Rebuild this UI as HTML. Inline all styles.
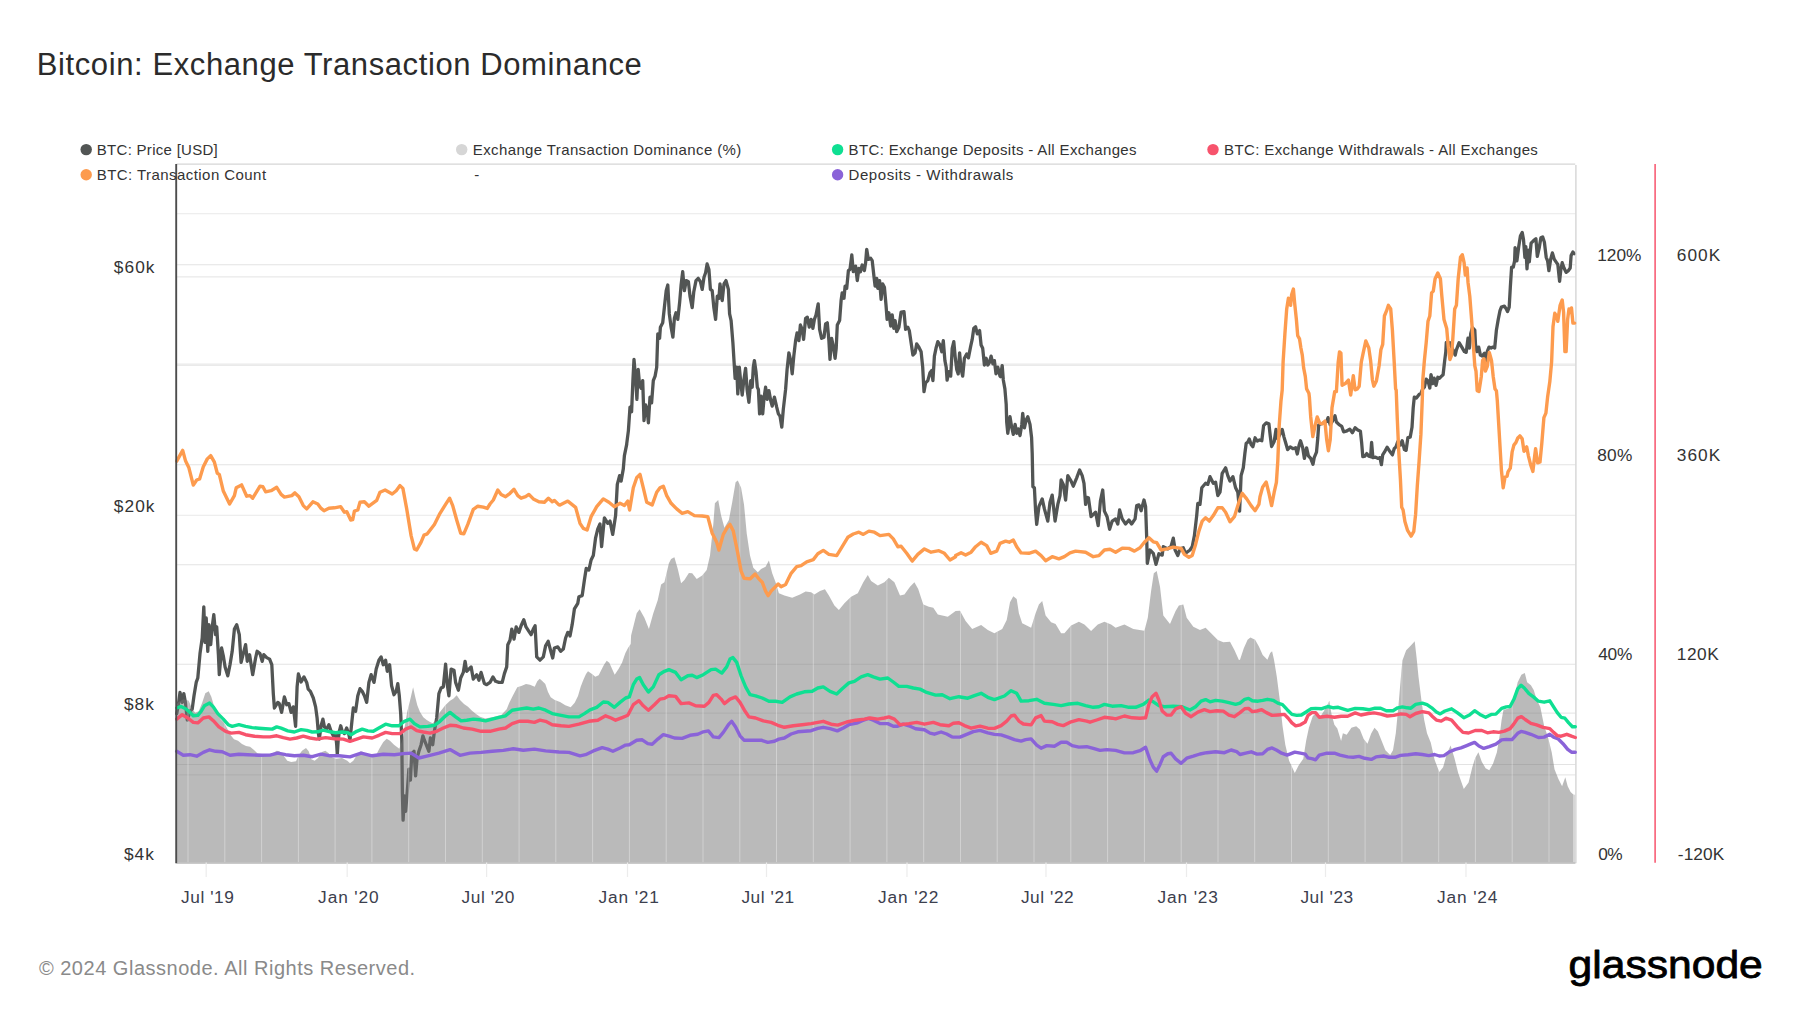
<!DOCTYPE html>
<html><head><meta charset="utf-8"><title>Bitcoin: Exchange Transaction Dominance</title>
<style>
html,body{margin:0;padding:0;background:#fff;}
body{width:1800px;height:1013px;overflow:hidden;}
svg{display:block;}
text{font-family:"Liberation Sans",sans-serif;}
</style></head><body>
<svg width="1800" height="1013" viewBox="0 0 1800 1013">
<rect width="1800" height="1013" fill="#ffffff"/>

<line x1="177" x2="1575.5" y1="264.8" y2="264.8" stroke="#e3e3e3" stroke-width="1.1"/>
<line x1="177" x2="1575.5" y1="365.1" y2="365.1" stroke="#e3e3e3" stroke-width="1.1"/>
<line x1="177" x2="1575.5" y1="464.7" y2="464.7" stroke="#e3e3e3" stroke-width="1.1"/>
<line x1="177" x2="1575.5" y1="564.8" y2="564.8" stroke="#e3e3e3" stroke-width="1.1"/>
<line x1="177" x2="1575.5" y1="664.2" y2="664.2" stroke="#e3e3e3" stroke-width="1.1"/>
<line x1="177" x2="1575.5" y1="764.5" y2="764.5" stroke="#e3e3e3" stroke-width="1.1"/>
<line x1="177" x2="1575.5" y1="213.8" y2="213.8" stroke="#e9e9e9" stroke-width="1.1"/>
<line x1="177" x2="1575.5" y1="276.9" y2="276.9" stroke="#e9e9e9" stroke-width="1.1"/>
<line x1="177" x2="1575.5" y1="364.0" y2="364.0" stroke="#e9e9e9" stroke-width="1.1"/>
<line x1="177" x2="1575.5" y1="515.3" y2="515.3" stroke="#e9e9e9" stroke-width="1.1"/>
<line x1="177" x2="1575.5" y1="713.1" y2="713.1" stroke="#e9e9e9" stroke-width="1.1"/>
<line x1="177" x2="1575.5" y1="774.9" y2="774.9" stroke="#e9e9e9" stroke-width="1.1"/>
<path d="M176.7,713.6 L178.4,704.7 L180.0,692.4 L182.2,702.4 L183.8,693.6 L185.6,703.6 L187.3,720.2 L190.0,711.3 L192.2,709.1 L194.0,695.8 L196.2,682.4 L197.8,678.0 L200.0,653.6 L202.2,638.0 L203.8,606.9 L205.1,642.4 L206.2,618.0 L207.8,651.3 L208.9,624.7 L210.7,644.7 L212.2,626.9 L213.8,614.7 L215.6,634.7 L216.7,626.9 L218.4,654.7 L219.3,674.7 L221.6,648.0 L223.3,655.8 L225.1,666.9 L227.8,675.8 L230.0,664.7 L232.2,651.3 L234.4,629.1 L236.7,624.7 L239.3,634.7 L241.1,662.4 L243.3,653.6 L245.6,644.7 L247.3,661.3 L249.6,654.7 L252.7,674.7 L255.6,658.0 L257.1,651.3 L260.0,653.6 L262.2,661.3 L263.8,654.7 L266.7,657.6 L269.6,659.1 L271.8,664.7 L273.3,693.6 L274.4,708.0 L277.8,702.4 L279.3,703.6 L281.6,712.4 L284.4,696.9 L286.7,704.7 L288.9,703.6 L291.1,712.4 L293.3,706.9 L294.4,715.8 L295.6,726.4 L297.1,686.9 L298.4,674.0 L301.1,682.0 L304.0,676.9 L306.7,682.4 L308.2,689.1 L310.4,691.3 L313.3,698.0 L315.6,706.9 L317.1,718.0 L318.4,733.6 L319.3,739.1 L321.1,725.8 L322.9,719.1 L324.4,726.9 L326.7,729.1 L328.9,724.7 L331.1,731.3 L333.3,735.8 L335.6,733.6 L336.7,744.7 L337.3,754.7 L338.2,740.2 L339.3,731.3 L340.7,725.8 L342.2,731.3 L344.4,733.6 L346.7,728.0 L348.9,734.7 L350.0,740.2 L351.8,722.4 L353.3,708.0 L355.6,711.3 L357.8,695.8 L360.0,688.7 L362.2,691.3 L364.4,695.8 L366.7,702.4 L368.9,682.4 L371.1,674.7 L374.0,682.4 L376.2,669.1 L378.9,660.2 L381.1,656.9 L383.3,664.7 L385.6,660.2 L387.3,671.3 L389.6,664.7 L391.6,685.8 L394.0,694.7 L396.2,691.3 L397.8,683.6 L399.3,695.8 L400.7,713.6 L401.8,740.2 L402.4,793.6 L403.1,820.2 L404.4,795.8 L405.6,811.3 L407.3,791.3 L408.9,769.1 L410.4,780.2 L411.8,753.6 L414.0,751.3 L415.6,775.8 L417.1,758.0 L418.9,751.3 L421.1,744.7 L422.9,735.8 L424.4,740.2 L426.7,745.8 L428.9,751.3 L430.4,738.0 L432.7,744.7 L434.4,731.3 L436.7,718.0 L438.9,693.6 L441.1,688.0 L443.3,686.9 L445.6,664.2 L447.3,684.7 L448.9,695.8 L451.1,669.1 L454.0,670.2 L455.6,682.4 L458.4,690.2 L460.7,678.0 L463.3,672.4 L465.1,661.3 L466.7,671.3 L468.9,669.1 L471.1,666.9 L473.3,679.1 L476.7,674.7 L478.9,680.2 L481.1,672.4 L484.4,683.6 L486.7,684.7 L490.0,682.4 L492.9,676.9 L495.6,681.3 L498.9,682.4 L502.2,682.4 L504.4,673.6 L506.7,666.9 L507.8,644.7 L510.0,640.2 L511.8,629.1 L514.0,639.1 L516.2,626.9 L518.9,632.4 L521.1,625.8 L523.8,619.8 L526.0,626.9 L528.9,631.3 L531.1,634.7 L533.3,629.1 L535.1,625.8 L536.7,656.9 L540.0,660.2 L543.3,656.9 L545.6,645.8 L548.2,641.3 L551.1,652.4 L552.7,658.0 L554.4,648.0 L557.8,646.9 L560.7,651.3 L563.3,649.1 L565.6,638.0 L567.8,632.4 L570.0,633.6 L570.0,636.0 L572.2,624.4 L574.4,608.9 L577.8,603.3 L578.9,596.7 L582.2,595.6 L584.4,580.0 L586.2,568.4 L588.9,570.0 L591.1,560.0 L593.3,555.6 L595.6,537.8 L597.8,528.9 L600.0,524.0 L601.6,546.7 L604.4,517.8 L607.8,523.3 L610.0,521.1 L612.7,534.4 L615.6,515.6 L617.3,484.4 L619.6,475.6 L621.1,481.1 L623.3,468.9 L624.4,455.6 L626.7,444.4 L626.7,443.9 L628.4,430.6 L630.0,407.2 L631.6,411.7 L632.9,380.6 L634.0,359.4 L635.6,378.3 L636.9,399.4 L638.2,369.4 L639.6,385.0 L641.1,388.3 L642.7,380.6 L644.0,420.6 L645.6,405.0 L647.1,409.4 L648.4,422.8 L650.0,397.2 L651.6,402.8 L653.3,380.6 L655.1,376.1 L656.7,367.2 L657.8,333.9 L659.6,338.3 L660.4,327.2 L662.7,322.8 L664.4,307.2 L666.2,290.6 L667.8,285.0 L669.3,313.9 L671.1,327.2 L672.9,337.2 L674.4,318.3 L676.0,312.8 L677.8,319.4 L679.6,302.8 L681.1,285.0 L682.7,271.7 L684.4,290.6 L686.2,280.6 L688.4,281.7 L690.0,296.1 L692.2,307.7 L693.8,291.7 L696.0,280.6 L698.2,278.3 L700.4,281.7 L702.2,289.4 L704.0,277.2 L705.6,272.8 L707.1,263.9 L708.9,269.4 L710.4,289.4 L712.2,290.6 L713.8,307.2 L715.6,319.4 L717.3,296.1 L718.9,298.3 L720.0,283.9 L722.2,300.6 L724.0,283.9 L726.0,280.6 L728.4,289.4 L729.6,313.9 L731.1,320.6 L732.9,342.8 L734.0,360.6 L735.1,378.3 L736.7,367.2 L737.8,393.9 L739.3,367.2 L740.7,381.7 L742.2,395.0 L743.8,380.6 L745.6,368.3 L747.1,389.4 L748.9,402.3 L750.7,380.6 L752.2,387.2 L753.3,367.2 L754.4,360.6 L756.0,371.7 L757.3,387.2 L758.4,389.4 L759.6,413.9 L761.1,396.1 L762.7,413.9 L764.0,398.3 L765.6,387.2 L767.1,399.4 L768.9,390.6 L770.7,400.6 L772.2,406.1 L774.4,397.2 L776.7,407.2 L778.4,413.9 L780.0,416.1 L781.8,427.2 L783.3,409.4 L785.6,389.4 L787.1,369.4 L788.9,352.8 L790.7,360.6 L792.2,373.9 L793.8,356.1 L795.6,340.6 L797.1,332.8 L798.9,340.6 L800.4,325.0 L802.2,329.4 L803.6,339.4 L805.6,318.3 L807.3,317.2 L809.3,327.2 L811.1,319.4 L812.9,328.3 L814.4,319.4 L816.0,315.0 L818.2,303.9 L819.6,329.4 L821.6,338.3 L824.0,337.2 L825.6,323.9 L827.3,322.8 L828.9,340.6 L830.0,359.4 L831.6,338.3 L833.3,346.1 L835.1,358.3 L836.2,348.3 L837.3,325.0 L839.6,320.6 L841.1,300.6 L842.2,292.8 L844.0,298.3 L845.1,286.1 L846.7,288.3 L848.4,270.6 L850.0,269.4 L851.8,255.0 L853.3,271.7 L855.6,266.1 L857.3,280.6 L858.9,268.3 L860.4,271.7 L862.2,265.0 L864.4,270.6 L865.6,262.8 L866.7,249.4 L868.4,259.4 L870.7,258.3 L872.2,260.6 L873.8,275.0 L875.1,286.1 L876.7,278.3 L877.8,288.3 L879.6,280.6 L881.1,299.4 L882.7,283.9 L884.4,287.2 L886.0,305.0 L887.1,319.4 L888.9,312.8 L890.7,326.1 L892.2,315.0 L893.8,328.3 L895.1,320.6 L896.7,331.7 L898.9,327.2 L901.1,312.1 L904.0,311.7 L905.6,329.4 L907.8,327.2 L909.3,330.6 L911.1,342.8 L912.9,355.0 L915.1,352.8 L916.7,343.9 L918.9,347.2 L921.1,351.7 L922.7,367.2 L924.0,391.7 L925.6,382.8 L927.8,380.6 L930.0,372.8 L931.6,370.6 L932.9,380.6 L934.4,356.1 L936.0,348.3 L937.8,341.7 L940.0,345.0 L941.8,351.7 L943.3,340.6 L944.9,360.6 L946.2,367.2 L947.1,380.1 L948.9,371.7 L950.7,376.1 L952.2,348.3 L953.8,341.7 L955.1,356.1 L956.7,369.4 L958.2,373.9 L959.6,352.8 L961.1,369.4 L962.7,376.1 L964.4,358.3 L966.7,353.9 L968.4,357.9 L970.7,346.1 L972.2,339.4 L973.8,328.3 L975.6,326.8 L977.3,333.9 L979.6,330.6 L981.1,345.0 L982.7,348.3 L984.4,365.0 L986.2,358.3 L987.8,365.0 L989.3,362.8 L991.1,356.1 L992.9,363.9 L994.4,360.6 L996.0,373.9 L997.8,367.2 L1000.0,376.1 L1000.4,376.7 L1002.2,365.6 L1003.3,380.0 L1004.9,388.9 L1006.2,404.4 L1006.7,422.2 L1007.8,433.3 L1010.0,416.7 L1011.6,426.7 L1013.3,434.4 L1015.1,424.4 L1016.7,433.3 L1018.2,428.9 L1020.0,435.6 L1021.8,424.4 L1022.7,413.3 L1024.4,427.8 L1026.2,420.0 L1027.8,416.7 L1030.0,424.4 L1031.6,437.8 L1032.2,453.3 L1032.9,486.7 L1034.4,487.8 L1035.6,511.1 L1036.7,524.4 L1038.9,506.7 L1042.2,498.9 L1044.4,508.9 L1047.8,521.1 L1050.0,502.2 L1052.2,495.1 L1055.1,521.1 L1057.8,504.4 L1060.0,495.6 L1061.1,480.0 L1063.3,484.4 L1065.6,500.0 L1067.8,475.6 L1071.1,481.1 L1073.3,486.2 L1076.7,477.8 L1079.6,470.0 L1082.2,475.6 L1084.0,483.3 L1085.6,504.4 L1086.7,497.3 L1088.4,497.8 L1091.1,516.7 L1095.6,512.2 L1098.2,525.6 L1100.4,501.1 L1102.7,490.0 L1104.4,511.1 L1107.1,516.7 L1109.6,529.3 L1112.2,521.1 L1115.6,518.9 L1117.8,524.0 L1119.6,510.0 L1122.2,518.9 L1125.6,524.0 L1128.9,520.0 L1131.6,524.0 L1135.1,518.9 L1136.7,505.6 L1138.9,504.9 L1141.1,510.7 L1144.0,500.0 L1145.6,506.7 L1146.7,537.8 L1147.3,563.3 L1150.0,550.0 L1153.3,553.3 L1156.0,564.4 L1158.9,553.8 L1162.2,555.1 L1163.3,546.7 L1167.8,548.9 L1171.1,546.2 L1173.3,538.2 L1175.1,550.0 L1177.8,555.6 L1180.0,548.9 L1183.3,547.8 L1185.6,553.3 L1190.0,550.0 L1192.2,546.7 L1194.4,535.6 L1196.7,515.6 L1197.8,503.3 L1200.0,504.4 L1201.8,487.8 L1205.6,483.3 L1207.8,484.4 L1210.0,476.7 L1213.3,483.3 L1215.6,482.2 L1217.8,495.6 L1220.0,492.2 L1222.2,473.3 L1225.6,467.8 L1227.8,475.6 L1230.0,481.1 L1232.9,476.7 L1235.6,487.8 L1237.8,492.2 L1239.6,511.1 L1241.1,475.6 L1243.3,467.8 L1244.9,453.3 L1246.2,443.3 L1247.8,442.2 L1249.3,438.9 L1251.1,444.4 L1252.9,446.7 L1255.1,437.8 L1257.3,441.1 L1259.6,440.0 L1261.8,440.7 L1263.6,425.6 L1266.2,422.9 L1268.9,423.8 L1270.3,436.2 L1271.6,446.5 L1274.2,441.6 L1276.0,429.5 L1277.8,438.9 L1279.9,434.4 L1282.2,429.5 L1284.0,437.1 L1285.8,443.3 L1287.6,449.6 L1290.2,446.9 L1292.9,448.7 L1295.6,447.8 L1297.3,454.0 L1299.1,445.1 L1300.5,440.7 L1302.7,447.8 L1304.4,458.4 L1306.6,447.8 L1308.4,455.8 L1310.7,458.4 L1313.0,464.3 L1314.2,457.6 L1316.5,452.2 L1317.8,438.0 L1318.7,424.7 L1321.3,423.8 L1324.0,422.9 L1326.7,421.6 L1328.1,417.6 L1330.2,424.7 L1332.5,421.1 L1335.0,415.8 L1336.4,422.0 L1339.1,424.7 L1341.8,426.4 L1343.6,431.8 L1346.2,431.2 L1349.8,429.1 L1352.4,432.7 L1355.1,427.7 L1357.8,430.0 L1360.4,431.2 L1361.7,443.3 L1362.8,456.7 L1364.9,456.1 L1366.7,453.6 L1368.8,456.1 L1370.6,456.7 L1371.6,442.4 L1372.9,457.6 L1375.6,457.2 L1378.2,458.4 L1380.0,457.6 L1381.4,464.7 L1382.7,454.9 L1384.4,452.2 L1387.1,447.2 L1389.8,451.3 L1392.4,454.9 L1394.2,448.7 L1396.0,446.9 L1397.8,441.6 L1400.4,445.1 L1402.2,440.7 L1404.4,449.6 L1406.1,450.4 L1407.9,437.6 L1410.2,437.1 L1412.0,427.3 L1413.2,407.8 L1414.3,397.1 L1416.4,398.0 L1419.1,394.4 L1420.9,393.3 L1422.7,388.9 L1424.4,387.1 L1426.2,379.1 L1428.0,380.9 L1429.8,388.0 L1431.0,374.7 L1432.8,383.6 L1434.2,378.2 L1436.0,385.3 L1437.8,377.3 L1439.6,378.2 L1441.3,376.4 L1443.1,374.7 L1444.5,362.2 L1445.8,351.6 L1446.3,342.3 L1448.1,344.4 L1449.9,342.7 L1452.0,348.0 L1453.8,351.6 L1455.2,355.1 L1456.4,349.8 L1459.1,342.7 L1461.8,347.1 L1464.4,351.6 L1466.2,352.4 L1468.0,338.2 L1469.4,348.0 L1470.7,333.8 L1472.4,327.6 L1474.8,330.2 L1475.5,344.4 L1476.9,351.6 L1478.7,347.1 L1480.4,355.1 L1482.2,356.0 L1484.4,353.3 L1485.8,361.3 L1487.2,351.6 L1489.0,347.1 L1491.1,348.0 L1492.9,347.1 L1494.7,348.0 L1496.4,330.2 L1498.2,319.6 L1500.0,310.7 L1501.4,307.1 L1504.4,306.2 L1506.2,308.9 L1507.5,311.6 L1509.2,307.1 L1510.3,287.6 L1511.6,267.1 L1513.3,267.1 L1514.6,260.9 L1515.1,247.6 L1516.9,260.9 L1518.7,246.7 L1520.4,236.0 L1522.2,232.4 L1523.5,239.6 L1524.9,257.3 L1525.8,246.7 L1527.0,268.9 L1528.1,250.2 L1529.3,261.8 L1531.1,243.1 L1532.9,241.3 L1534.7,239.6 L1535.9,238.7 L1537.3,256.4 L1539.1,248.4 L1540.9,237.8 L1542.7,236.9 L1544.4,242.2 L1546.2,257.3 L1547.6,260.9 L1548.9,270.7 L1550.7,259.1 L1552.4,252.9 L1554.2,259.1 L1556.0,261.8 L1557.8,264.4 L1559.6,281.3 L1560.8,269.8 L1562.2,262.7 L1564.0,268.0 L1566.1,272.4 L1568.4,270.7 L1570.2,268.0 L1571.1,255.6 L1572.9,252.0 L1574.3,253.8" fill="none" stroke="#525554" stroke-width="3.3" stroke-linejoin="round" stroke-linecap="round"/>
<defs><clipPath id="ac"><path d="M176.4,862.5 L176.4,703.3 L183.3,699.3 L188.7,700.7 L192.0,708.7 L195.3,712.7 L198.7,711.3 L202.0,703.3 L205.3,693.3 L208.7,691.3 L211.3,696.7 L214.0,706.0 L217.3,714.0 L220.7,719.3 L224.0,722.7 L227.3,728.7 L230.7,735.3 L234.0,739.3 L238.0,740.7 L242.0,744.0 L246.0,746.0 L250.0,746.7 L254.0,750.0 L257.3,753.3 L262.0,754.0 L271.3,754.0 L276.7,750.7 L279.3,751.3 L283.3,755.3 L287.3,760.7 L291.3,762.0 L296.0,761.3 L298.7,755.3 L302.0,750.7 L306.0,748.0 L308.7,751.3 L311.3,759.3 L314.7,760.7 L318.0,758.0 L322.0,752.0 L325.3,750.7 L328.7,753.3 L332.0,757.3 L336.0,758.7 L342.0,758.0 L347.3,760.7 L350.0,763.3 L353.3,760.7 L356.7,755.3 L360.7,751.3 L363.3,752.0 L367.3,755.3 L372.7,756.7 L376.0,755.3 L379.3,748.7 L383.3,742.0 L386.7,738.7 L390.0,740.7 L394.0,744.7 L399.3,748.7 L402.7,739.3 L402.7,739.3 L405.3,723.3 L407.3,711.3 L410.0,700.7 L413.1,687.3 L415.3,697.3 L417.3,705.3 L420.0,712.0 L423.3,717.3 L426.7,720.0 L430.0,722.0 L432.7,723.3 L436.0,720.0 L440.0,712.0 L445.3,705.3 L450.0,700.7 L453.3,698.7 L456.7,695.3 L460.0,700.0 L464.0,704.0 L468.0,706.7 L472.0,710.7 L476.0,714.0 L480.0,716.7 L485.3,718.4 L493.3,717.1 L501.3,714.9 L506.7,709.3 L509.3,702.7 L513.3,694.7 L517.3,687.3 L521.3,686.0 L526.0,684.0 L530.0,684.7 L534.7,686.7 L537.3,681.3 L539.7,678.7 L542.0,680.7 L545.3,684.0 L548.0,692.0 L550.7,697.3 L554.7,700.0 L560.0,702.0 L565.3,705.3 L570.7,707.3 L574.7,702.7 L578.0,696.0 L580.7,686.7 L583.3,680.0 L586.0,674.0 L588.0,671.3 L592.0,674.0 L595.3,676.7 L598.7,675.3 L601.3,670.0 L604.0,664.7 L606.7,660.7 L609.3,662.7 L612.0,668.7 L614.7,674.7 L618.7,668.7 L622.0,662.7 L625.3,653.3 L628.0,648.0 L630.7,644.0 L631.1,635.6 L636.7,613.3 L639.6,609.3 L644.4,617.8 L648.9,628.9 L653.3,613.3 L657.8,600.0 L661.1,584.4 L664.4,582.2 L668.9,563.3 L671.1,558.9 L674.4,557.3 L677.8,568.9 L681.1,583.3 L684.4,580.0 L688.9,572.9 L692.2,573.3 L696.7,578.9 L702.2,575.6 L706.7,570.0 L710.0,555.6 L713.3,524.4 L714.9,503.3 L718.2,500.0 L721.1,515.6 L724.4,527.8 L728.9,520.0 L732.2,502.2 L735.6,482.2 L737.8,480.4 L741.1,487.8 L744.0,504.4 L746.7,533.3 L750.0,555.6 L753.3,567.8 L757.8,572.2 L761.1,568.9 L765.6,566.7 L768.9,560.4 L772.2,573.3 L775.6,582.2 L778.9,593.3 L784.4,595.6 L792.2,597.8 L800.0,594.4 L805.6,591.6 L811.1,592.2 L814.4,594.4 L820.0,591.1 L824.9,589.3 L828.9,595.6 L834.4,605.6 L838.9,610.0 L844.4,603.3 L851.1,596.7 L857.8,593.3 L863.3,582.2 L867.8,575.1 L871.1,581.1 L877.8,585.6 L884.4,582.2 L888.9,577.8 L894.4,582.2 L900.0,595.6 L904.4,594.4 L910.0,586.7 L914.4,582.2 L918.2,588.9 L923.3,604.4 L928.9,606.7 L933.3,607.8 L937.8,614.4 L947.8,616.7 L955.6,611.1 L960.0,610.7 L965.6,621.1 L972.2,628.9 L981.1,624.9 L987.8,630.0 L994.4,633.3 L1002.2,628.9 L1006.7,620.0 L1010.0,602.2 L1013.3,596.2 L1016.7,598.9 L1018.9,613.3 L1022.2,623.3 L1031.1,627.8 L1035.6,613.3 L1038.9,604.4 L1042.2,601.1 L1045.6,615.6 L1051.1,622.2 L1055.6,624.0 L1061.1,633.3 L1064.4,633.3 L1071.1,625.6 L1078.9,621.8 L1084.4,624.4 L1091.1,631.1 L1097.8,624.4 L1104.4,621.8 L1111.1,624.4 L1115.6,627.8 L1124.4,624.4 L1133.3,628.9 L1144.4,630.7 L1147.8,617.8 L1151.1,591.1 L1153.8,573.3 L1156.7,571.1 L1160.0,586.7 L1163.3,615.6 L1170.0,624.0 L1175.6,611.1 L1178.9,605.6 L1183.3,604.4 L1186.7,617.8 L1193.3,626.7 L1200.0,630.0 L1205.6,627.8 L1211.1,633.3 L1217.8,640.0 L1223.3,642.2 L1230.0,641.8 L1234.4,650.0 L1238.9,660.0 L1240.0,659.7 L1243.8,648.3 L1247.6,639.8 L1250.4,637.6 L1255.1,639.8 L1258.9,646.4 L1262.7,654.9 L1267.4,659.7 L1270.2,653.1 L1272.1,651.2 L1274.0,659.7 L1276.8,676.7 L1279.7,699.3 L1282.5,725.8 L1285.3,744.7 L1289.1,760.7 L1294.8,773.0 L1298.6,765.4 L1303.3,758.8 L1306.1,740.9 L1308.9,727.7 L1312.7,716.3 L1315.6,713.5 L1319.3,718.2 L1324.1,710.7 L1326.9,705.9 L1329.3,700.8 L1331.6,714.4 L1334.4,724.8 L1337.3,728.6 L1341.1,740.9 L1342.9,733.3 L1346.7,734.8 L1351.4,727.7 L1356.2,726.2 L1359.9,729.6 L1363.7,739.0 L1367.5,743.7 L1371.3,733.3 L1374.5,727.7 L1377.9,731.4 L1381.7,740.9 L1385.4,750.3 L1390.2,755.1 L1393.0,750.3 L1395.8,733.3 L1398.7,703.1 L1400.6,680.4 L1402.4,660.6 L1406.2,650.2 L1410.9,645.5 L1414.7,641.2 L1416.6,657.8 L1418.5,676.7 L1421.3,699.3 L1424.2,720.1 L1427.0,733.3 L1430.8,742.8 L1434.6,759.8 L1439.3,772.1 L1443.1,767.3 L1446.8,754.1 L1450.6,745.6 L1454.4,757.9 L1458.2,773.0 L1463.8,789.1 L1468.6,782.4 L1472.3,767.3 L1475.2,757.9 L1478.4,752.2 L1481.8,761.7 L1485.6,768.3 L1489.3,770.2 L1493.1,763.6 L1496.9,752.2 L1499.7,735.2 L1501.6,720.1 L1503.5,709.7 L1508.2,708.8 L1512.0,705.9 L1514.8,694.6 L1517.7,682.3 L1521.4,674.8 L1524.8,672.9 L1527.1,682.3 L1530.9,685.2 L1533.7,689.9 L1536.6,699.3 L1540.3,706.9 L1544.1,725.8 L1547.9,737.1 L1551.7,752.2 L1554.5,769.2 L1558.3,778.7 L1562.1,786.2 L1565.3,777.2 L1567.7,786.2 L1570.6,791.9 L1573.6,794.7 L1573.6,862.5 Z"/></clipPath></defs>
<path d="M176.4,862.5 L176.4,703.3 L183.3,699.3 L188.7,700.7 L192.0,708.7 L195.3,712.7 L198.7,711.3 L202.0,703.3 L205.3,693.3 L208.7,691.3 L211.3,696.7 L214.0,706.0 L217.3,714.0 L220.7,719.3 L224.0,722.7 L227.3,728.7 L230.7,735.3 L234.0,739.3 L238.0,740.7 L242.0,744.0 L246.0,746.0 L250.0,746.7 L254.0,750.0 L257.3,753.3 L262.0,754.0 L271.3,754.0 L276.7,750.7 L279.3,751.3 L283.3,755.3 L287.3,760.7 L291.3,762.0 L296.0,761.3 L298.7,755.3 L302.0,750.7 L306.0,748.0 L308.7,751.3 L311.3,759.3 L314.7,760.7 L318.0,758.0 L322.0,752.0 L325.3,750.7 L328.7,753.3 L332.0,757.3 L336.0,758.7 L342.0,758.0 L347.3,760.7 L350.0,763.3 L353.3,760.7 L356.7,755.3 L360.7,751.3 L363.3,752.0 L367.3,755.3 L372.7,756.7 L376.0,755.3 L379.3,748.7 L383.3,742.0 L386.7,738.7 L390.0,740.7 L394.0,744.7 L399.3,748.7 L402.7,739.3 L402.7,739.3 L405.3,723.3 L407.3,711.3 L410.0,700.7 L413.1,687.3 L415.3,697.3 L417.3,705.3 L420.0,712.0 L423.3,717.3 L426.7,720.0 L430.0,722.0 L432.7,723.3 L436.0,720.0 L440.0,712.0 L445.3,705.3 L450.0,700.7 L453.3,698.7 L456.7,695.3 L460.0,700.0 L464.0,704.0 L468.0,706.7 L472.0,710.7 L476.0,714.0 L480.0,716.7 L485.3,718.4 L493.3,717.1 L501.3,714.9 L506.7,709.3 L509.3,702.7 L513.3,694.7 L517.3,687.3 L521.3,686.0 L526.0,684.0 L530.0,684.7 L534.7,686.7 L537.3,681.3 L539.7,678.7 L542.0,680.7 L545.3,684.0 L548.0,692.0 L550.7,697.3 L554.7,700.0 L560.0,702.0 L565.3,705.3 L570.7,707.3 L574.7,702.7 L578.0,696.0 L580.7,686.7 L583.3,680.0 L586.0,674.0 L588.0,671.3 L592.0,674.0 L595.3,676.7 L598.7,675.3 L601.3,670.0 L604.0,664.7 L606.7,660.7 L609.3,662.7 L612.0,668.7 L614.7,674.7 L618.7,668.7 L622.0,662.7 L625.3,653.3 L628.0,648.0 L630.7,644.0 L631.1,635.6 L636.7,613.3 L639.6,609.3 L644.4,617.8 L648.9,628.9 L653.3,613.3 L657.8,600.0 L661.1,584.4 L664.4,582.2 L668.9,563.3 L671.1,558.9 L674.4,557.3 L677.8,568.9 L681.1,583.3 L684.4,580.0 L688.9,572.9 L692.2,573.3 L696.7,578.9 L702.2,575.6 L706.7,570.0 L710.0,555.6 L713.3,524.4 L714.9,503.3 L718.2,500.0 L721.1,515.6 L724.4,527.8 L728.9,520.0 L732.2,502.2 L735.6,482.2 L737.8,480.4 L741.1,487.8 L744.0,504.4 L746.7,533.3 L750.0,555.6 L753.3,567.8 L757.8,572.2 L761.1,568.9 L765.6,566.7 L768.9,560.4 L772.2,573.3 L775.6,582.2 L778.9,593.3 L784.4,595.6 L792.2,597.8 L800.0,594.4 L805.6,591.6 L811.1,592.2 L814.4,594.4 L820.0,591.1 L824.9,589.3 L828.9,595.6 L834.4,605.6 L838.9,610.0 L844.4,603.3 L851.1,596.7 L857.8,593.3 L863.3,582.2 L867.8,575.1 L871.1,581.1 L877.8,585.6 L884.4,582.2 L888.9,577.8 L894.4,582.2 L900.0,595.6 L904.4,594.4 L910.0,586.7 L914.4,582.2 L918.2,588.9 L923.3,604.4 L928.9,606.7 L933.3,607.8 L937.8,614.4 L947.8,616.7 L955.6,611.1 L960.0,610.7 L965.6,621.1 L972.2,628.9 L981.1,624.9 L987.8,630.0 L994.4,633.3 L1002.2,628.9 L1006.7,620.0 L1010.0,602.2 L1013.3,596.2 L1016.7,598.9 L1018.9,613.3 L1022.2,623.3 L1031.1,627.8 L1035.6,613.3 L1038.9,604.4 L1042.2,601.1 L1045.6,615.6 L1051.1,622.2 L1055.6,624.0 L1061.1,633.3 L1064.4,633.3 L1071.1,625.6 L1078.9,621.8 L1084.4,624.4 L1091.1,631.1 L1097.8,624.4 L1104.4,621.8 L1111.1,624.4 L1115.6,627.8 L1124.4,624.4 L1133.3,628.9 L1144.4,630.7 L1147.8,617.8 L1151.1,591.1 L1153.8,573.3 L1156.7,571.1 L1160.0,586.7 L1163.3,615.6 L1170.0,624.0 L1175.6,611.1 L1178.9,605.6 L1183.3,604.4 L1186.7,617.8 L1193.3,626.7 L1200.0,630.0 L1205.6,627.8 L1211.1,633.3 L1217.8,640.0 L1223.3,642.2 L1230.0,641.8 L1234.4,650.0 L1238.9,660.0 L1240.0,659.7 L1243.8,648.3 L1247.6,639.8 L1250.4,637.6 L1255.1,639.8 L1258.9,646.4 L1262.7,654.9 L1267.4,659.7 L1270.2,653.1 L1272.1,651.2 L1274.0,659.7 L1276.8,676.7 L1279.7,699.3 L1282.5,725.8 L1285.3,744.7 L1289.1,760.7 L1294.8,773.0 L1298.6,765.4 L1303.3,758.8 L1306.1,740.9 L1308.9,727.7 L1312.7,716.3 L1315.6,713.5 L1319.3,718.2 L1324.1,710.7 L1326.9,705.9 L1329.3,700.8 L1331.6,714.4 L1334.4,724.8 L1337.3,728.6 L1341.1,740.9 L1342.9,733.3 L1346.7,734.8 L1351.4,727.7 L1356.2,726.2 L1359.9,729.6 L1363.7,739.0 L1367.5,743.7 L1371.3,733.3 L1374.5,727.7 L1377.9,731.4 L1381.7,740.9 L1385.4,750.3 L1390.2,755.1 L1393.0,750.3 L1395.8,733.3 L1398.7,703.1 L1400.6,680.4 L1402.4,660.6 L1406.2,650.2 L1410.9,645.5 L1414.7,641.2 L1416.6,657.8 L1418.5,676.7 L1421.3,699.3 L1424.2,720.1 L1427.0,733.3 L1430.8,742.8 L1434.6,759.8 L1439.3,772.1 L1443.1,767.3 L1446.8,754.1 L1450.6,745.6 L1454.4,757.9 L1458.2,773.0 L1463.8,789.1 L1468.6,782.4 L1472.3,767.3 L1475.2,757.9 L1478.4,752.2 L1481.8,761.7 L1485.6,768.3 L1489.3,770.2 L1493.1,763.6 L1496.9,752.2 L1499.7,735.2 L1501.6,720.1 L1503.5,709.7 L1508.2,708.8 L1512.0,705.9 L1514.8,694.6 L1517.7,682.3 L1521.4,674.8 L1524.8,672.9 L1527.1,682.3 L1530.9,685.2 L1533.7,689.9 L1536.6,699.3 L1540.3,706.9 L1544.1,725.8 L1547.9,737.1 L1551.7,752.2 L1554.5,769.2 L1558.3,778.7 L1562.1,786.2 L1565.3,777.2 L1567.7,786.2 L1570.6,791.9 L1573.6,794.7 L1573.6,862.5 Z" fill="#757575" fill-opacity="0.5"/>
<g clip-path="url(#ac)" stroke="#ffffff" stroke-opacity="0.34" stroke-width="1.0"><line x1="188.0" x2="188.0" y1="400" y2="862.5"/><line x1="224.8" x2="224.8" y1="400" y2="862.5"/><line x1="261.6" x2="261.6" y1="400" y2="862.5"/><line x1="298.4" x2="298.4" y1="400" y2="862.5"/><line x1="335.1" x2="335.1" y1="400" y2="862.5"/><line x1="371.9" x2="371.9" y1="400" y2="862.5"/><line x1="408.7" x2="408.7" y1="400" y2="862.5"/><line x1="445.5" x2="445.5" y1="400" y2="862.5"/><line x1="482.3" x2="482.3" y1="400" y2="862.5"/><line x1="519.1" x2="519.1" y1="400" y2="862.5"/><line x1="555.8" x2="555.8" y1="400" y2="862.5"/><line x1="592.6" x2="592.6" y1="400" y2="862.5"/><line x1="629.4" x2="629.4" y1="400" y2="862.5"/><line x1="666.2" x2="666.2" y1="400" y2="862.5"/><line x1="703.0" x2="703.0" y1="400" y2="862.5"/><line x1="739.8" x2="739.8" y1="400" y2="862.5"/><line x1="776.5" x2="776.5" y1="400" y2="862.5"/><line x1="813.3" x2="813.3" y1="400" y2="862.5"/><line x1="850.1" x2="850.1" y1="400" y2="862.5"/><line x1="886.9" x2="886.9" y1="400" y2="862.5"/><line x1="923.7" x2="923.7" y1="400" y2="862.5"/><line x1="960.5" x2="960.5" y1="400" y2="862.5"/><line x1="997.2" x2="997.2" y1="400" y2="862.5"/><line x1="1034.0" x2="1034.0" y1="400" y2="862.5"/><line x1="1070.8" x2="1070.8" y1="400" y2="862.5"/><line x1="1107.6" x2="1107.6" y1="400" y2="862.5"/><line x1="1144.4" x2="1144.4" y1="400" y2="862.5"/><line x1="1181.2" x2="1181.2" y1="400" y2="862.5"/><line x1="1218.0" x2="1218.0" y1="400" y2="862.5"/><line x1="1254.7" x2="1254.7" y1="400" y2="862.5"/><line x1="1291.5" x2="1291.5" y1="400" y2="862.5"/><line x1="1328.3" x2="1328.3" y1="400" y2="862.5"/><line x1="1365.1" x2="1365.1" y1="400" y2="862.5"/><line x1="1401.9" x2="1401.9" y1="400" y2="862.5"/><line x1="1438.7" x2="1438.7" y1="400" y2="862.5"/><line x1="1475.4" x2="1475.4" y1="400" y2="862.5"/><line x1="1512.2" x2="1512.2" y1="400" y2="862.5"/><line x1="1549.0" x2="1549.0" y1="400" y2="862.5"/></g>
<path d="M1573.4,794.7 L1575.3,794.7 L1575.3,862.5 L1573.4,862.5 Z" fill="#d6d6d6"/>
<line x1="176.5" x2="1575.2" y1="164.1" y2="164.1" stroke="#d6d6d6" stroke-width="1.2"/>
<line x1="1575.9" x2="1575.9" y1="165" y2="863.2" stroke="#d2d2d2" stroke-width="1.3"/>
<line x1="176.5" x2="1575.4" y1="863.0" y2="863.0" stroke="#b9b9b9" stroke-width="1.5"/>
<line x1="206.2" x2="206.2" y1="862.5" y2="877" stroke="#ececec" stroke-width="1.2"/>
<line x1="347.2" x2="347.2" y1="862.5" y2="877" stroke="#ececec" stroke-width="1.2"/>
<line x1="486.6" x2="486.6" y1="862.5" y2="877" stroke="#ececec" stroke-width="1.2"/>
<line x1="627.5" x2="627.5" y1="862.5" y2="877" stroke="#ececec" stroke-width="1.2"/>
<line x1="766.5" x2="766.5" y1="862.5" y2="877" stroke="#ececec" stroke-width="1.2"/>
<line x1="907" x2="907" y1="862.5" y2="877" stroke="#ececec" stroke-width="1.2"/>
<line x1="1046" x2="1046" y1="862.5" y2="877" stroke="#ececec" stroke-width="1.2"/>
<line x1="1186.5" x2="1186.5" y1="862.5" y2="877" stroke="#ececec" stroke-width="1.2"/>
<line x1="1325.5" x2="1325.5" y1="862.5" y2="877" stroke="#ececec" stroke-width="1.2"/>
<line x1="1466" x2="1466" y1="862.5" y2="877" stroke="#ececec" stroke-width="1.2"/>
<path d="M176.7,461.1 L182.7,450.4 L185.6,461.1 L188.9,467.8 L193.3,485.1 L196.7,480.0 L199.6,478.9 L203.3,466.7 L207.3,458.9 L210.7,455.6 L214.4,462.2 L217.3,473.3 L219.3,474.4 L223.3,491.1 L229.6,504.0 L234.4,495.6 L236.2,487.8 L241.6,484.9 L246.7,496.2 L250.0,495.6 L252.7,498.2 L260.0,486.2 L262.9,486.7 L265.6,491.8 L271.1,490.7 L276.7,487.3 L281.1,494.4 L284.4,497.1 L291.8,495.6 L294.9,492.9 L298.9,496.7 L303.3,505.6 L306.7,508.9 L312.9,501.8 L317.8,504.0 L321.1,508.4 L324.0,510.7 L328.9,508.2 L334.4,507.8 L340.7,506.7 L344.4,512.2 L346.7,511.6 L350.7,520.0 L352.7,519.6 L354.4,511.1 L357.8,510.0 L360.0,502.2 L364.4,501.8 L368.9,506.2 L376.7,500.4 L380.0,492.2 L385.1,490.0 L392.2,494.0 L396.2,490.7 L400.0,485.6 L402.9,488.4 L406.7,508.9 L411.1,535.6 L414.4,548.9 L416.7,550.0 L421.1,542.2 L424.0,535.1 L427.3,533.8 L434.4,524.4 L440.0,513.3 L445.6,504.4 L449.6,498.2 L452.7,505.6 L456.7,520.0 L460.7,533.3 L463.8,533.8 L467.8,524.4 L473.3,509.3 L477.8,506.2 L483.3,507.1 L487.3,508.4 L490.0,504.0 L493.3,500.0 L497.8,490.0 L501.1,494.4 L505.6,496.7 L510.0,493.3 L514.0,489.3 L517.8,495.6 L521.1,498.2 L525.6,496.7 L528.9,494.4 L533.3,498.9 L538.9,501.8 L544.4,502.2 L548.4,498.2 L552.2,501.8 L554.4,500.4 L558.9,504.9 L560.0,505.1 L567.8,501.1 L575.6,507.3 L580.0,523.3 L583.3,528.4 L587.1,530.0 L591.1,516.7 L596.7,506.7 L603.3,498.9 L608.9,502.2 L614.4,506.7 L620.0,503.3 L624.4,505.6 L627.8,501.1 L629.6,510.0 L633.3,487.8 L636.7,477.8 L640.0,474.4 L643.3,487.8 L646.7,502.2 L652.2,504.9 L656.7,492.2 L660.0,487.8 L663.3,486.2 L666.7,495.6 L671.1,503.3 L676.7,508.9 L682.2,513.3 L687.8,511.6 L694.4,515.6 L702.2,516.0 L707.8,516.7 L712.2,533.3 L716.7,542.2 L718.9,550.0 L723.3,534.4 L727.8,526.7 L730.0,524.4 L733.3,531.1 L737.8,553.3 L741.1,571.1 L744.0,578.2 L750.0,578.9 L755.1,574.0 L758.9,578.9 L762.2,582.2 L765.6,591.1 L768.2,595.6 L771.1,591.1 L778.2,584.0 L781.1,586.7 L785.6,584.4 L791.1,573.3 L796.7,566.7 L801.1,565.6 L806.7,561.8 L813.3,559.6 L817.8,553.8 L823.3,550.4 L828.9,554.4 L836.7,555.6 L842.2,546.7 L847.8,537.3 L853.3,534.0 L858.9,532.2 L863.3,534.4 L868.9,531.1 L874.4,532.2 L880.0,535.6 L888.9,534.4 L893.3,538.9 L897.8,546.7 L901.1,546.2 L906.7,553.3 L912.2,561.1 L917.8,554.4 L924.4,548.9 L931.1,552.2 L938.9,550.7 L944.4,553.3 L950.0,560.0 L955.6,556.7 L955.6,555.6 L961.1,552.7 L965.6,555.1 L971.1,552.2 L975.6,546.7 L981.1,542.2 L986.7,545.6 L990.7,553.3 L996.7,551.1 L1000.0,543.3 L1005.6,541.1 L1009.3,542.2 L1013.3,540.0 L1016.7,546.7 L1021.1,552.9 L1028.9,553.3 L1035.6,551.1 L1041.1,555.6 L1045.6,560.7 L1052.2,556.7 L1058.9,558.9 L1064.4,556.7 L1070.0,552.9 L1075.6,551.1 L1085.6,552.2 L1093.3,556.7 L1098.9,555.6 L1104.4,550.0 L1110.0,549.3 L1115.6,552.2 L1122.2,548.2 L1128.9,548.4 L1134.4,551.1 L1140.0,547.8 L1144.4,542.2 L1148.9,537.8 L1153.3,541.8 L1156.7,542.7 L1161.1,550.0 L1166.7,548.9 L1173.3,547.1 L1181.1,548.4 L1184.4,554.4 L1188.9,557.3 L1192.2,555.6 L1195.6,544.4 L1198.9,531.1 L1202.2,521.1 L1205.6,517.8 L1209.3,521.1 L1213.3,515.6 L1217.8,507.8 L1222.2,507.8 L1225.6,512.2 L1230.0,521.8 L1234.4,516.7 L1238.9,502.2 L1242.2,493.3 L1246.7,498.9 L1251.1,505.6 L1255.1,510.7 L1258.9,504.4 L1260.0,496.7 L1262.7,486.9 L1266.2,482.1 L1268.9,493.1 L1271.6,505.6 L1274.2,492.2 L1276.4,482.4 L1277.8,461.1 L1279.2,425.6 L1281.0,400.7 L1282.2,390.0 L1283.1,362.2 L1284.9,333.8 L1286.7,308.9 L1288.4,298.2 L1290.6,305.3 L1291.6,294.7 L1293.4,289.0 L1294.7,303.6 L1296.4,319.6 L1297.7,335.6 L1299.5,338.8 L1300.9,348.0 L1302.3,355.1 L1303.6,367.6 L1305.3,376.4 L1306.6,388.9 L1308.9,393.3 L1309.4,397.1 L1310.7,416.7 L1312.8,436.6 L1315.1,425.6 L1317.2,417.0 L1319.6,422.9 L1322.2,423.8 L1324.9,421.1 L1326.7,439.8 L1328.4,450.8 L1330.2,439.8 L1332.0,407.8 L1333.8,397.1 L1334.7,391.6 L1336.4,391.6 L1338.2,362.2 L1339.5,351.9 L1340.9,353.0 L1342.1,385.3 L1345.3,383.6 L1348.4,380.0 L1350.7,395.1 L1353.3,375.6 L1355.1,389.8 L1357.4,388.9 L1359.2,386.2 L1361.3,362.2 L1363.1,353.3 L1365.8,340.9 L1368.8,348.0 L1370.6,360.4 L1372.4,380.0 L1373.8,386.2 L1376.4,380.9 L1379.1,365.8 L1380.9,349.8 L1382.7,344.4 L1384.4,316.0 L1386.6,310.7 L1388.4,305.3 L1390.7,308.9 L1392.4,330.2 L1394.2,362.2 L1395.6,388.9 L1396.2,390.0 L1397.2,416.7 L1398.7,450.4 L1400.4,478.9 L1401.7,507.3 L1403.1,510.0 L1404.9,521.6 L1407.6,530.4 L1411.1,536.1 L1413.8,531.3 L1415.6,514.4 L1417.3,486.0 L1419.1,461.1 L1420.9,434.4 L1422.3,398.9 L1422.8,380.0 L1424.4,360.4 L1426.2,342.7 L1428.0,321.3 L1429.8,316.0 L1431.6,292.9 L1433.3,291.1 L1435.1,278.7 L1437.8,273.0 L1440.4,278.7 L1441.7,294.7 L1444.0,319.6 L1446.7,328.4 L1448.4,348.0 L1449.9,359.6 L1451.6,355.1 L1452.9,337.3 L1454.7,308.9 L1456.4,305.3 L1458.2,278.7 L1460.5,257.3 L1462.3,254.7 L1464.1,262.7 L1465.3,275.1 L1467.1,268.0 L1468.0,282.2 L1469.8,296.4 L1471.6,319.6 L1473.3,344.4 L1474.8,365.8 L1476.0,371.1 L1477.2,390.7 L1479.0,391.6 L1481.3,376.4 L1482.6,360.4 L1484.0,358.7 L1485.4,371.1 L1487.2,366.7 L1489.3,352.4 L1491.5,360.4 L1493.2,376.4 L1495.0,388.9 L1496.4,390.7 L1497.3,400.7 L1499.1,430.9 L1501.4,470.0 L1503.2,487.8 L1505.0,477.1 L1507.1,476.2 L1508.0,471.8 L1510.3,468.2 L1512.1,452.2 L1513.9,445.1 L1516.0,442.4 L1517.8,438.0 L1519.9,435.9 L1522.2,438.9 L1524.0,451.3 L1526.7,446.9 L1528.4,455.8 L1530.6,464.7 L1532.9,471.4 L1534.7,455.8 L1535.6,448.7 L1537.7,462.9 L1540.0,462.0 L1541.8,443.3 L1543.9,417.6 L1545.9,413.1 L1547.6,397.1 L1549.8,381.8 L1551.6,362.2 L1553.0,326.7 L1554.8,313.3 L1556.5,316.0 L1557.8,321.3 L1560.1,305.3 L1562.2,300.0 L1563.6,312.4 L1564.9,351.6 L1566.1,351.6 L1567.6,319.6 L1569.0,308.9 L1570.2,312.4 L1571.5,308.0 L1572.9,323.1 L1574.7,323.1" fill="none" stroke="#fd9b4e" stroke-width="3.4" stroke-linejoin="round" stroke-linecap="round"/>
<path d="M176.7,751.3 L183.3,755.3 L190.0,754.7 L196.7,756.2 L203.3,752.4 L209.6,749.8 L215.6,751.3 L222.2,751.8 L230.0,755.3 L238.9,754.2 L247.8,754.7 L258.9,755.3 L270.0,755.1 L277.8,753.1 L285.6,754.7 L294.4,755.8 L303.3,755.3 L312.2,756.7 L321.1,754.2 L330.0,755.8 L338.9,755.8 L350.0,756.9 L361.1,753.1 L372.2,755.8 L383.3,754.2 L394.4,754.7 L403.3,753.6 L411.1,753.1 L418.9,758.0 L427.8,755.8 L438.9,753.1 L450.0,749.6 L460.0,755.3 L470.0,753.1 L481.1,752.4 L492.2,751.3 L503.3,750.4 L513.3,748.7 L523.3,750.2 L534.4,749.1 L545.6,750.9 L558.9,752.0 L568.9,752.4 L580.0,755.8 L585.6,754.7 L593.3,750.9 L602.2,747.6 L607.8,749.1 L612.9,751.3 L620.0,748.0 L625.6,745.1 L629.3,744.7 L636.7,740.2 L642.2,739.8 L647.8,743.6 L652.2,744.2 L657.8,739.1 L663.3,734.7 L668.9,736.2 L674.4,738.0 L682.2,738.4 L690.0,735.3 L697.8,734.2 L703.3,731.8 L708.4,730.9 L713.3,736.9 L718.9,737.6 L723.3,732.4 L728.4,724.7 L731.6,721.3 L735.6,726.9 L740.0,735.8 L744.0,740.2 L753.3,740.2 L761.1,740.2 L767.8,742.4 L774.4,741.3 L778.9,739.1 L784.4,738.0 L791.1,734.0 L797.8,731.8 L804.4,731.3 L811.1,730.7 L817.8,728.4 L823.3,727.3 L830.0,728.7 L837.3,730.9 L843.3,728.0 L848.9,724.7 L856.7,723.1 L862.2,720.7 L868.4,718.4 L873.3,720.2 L880.0,723.6 L887.8,723.6 L893.3,726.2 L897.8,726.2 L903.3,724.2 L908.9,725.8 L915.6,728.7 L924.4,729.8 L930.0,733.1 L934.4,734.2 L941.1,732.0 L946.7,734.0 L952.2,736.9 L953.3,737.1 L960.0,737.1 L966.7,734.4 L973.3,731.6 L980.0,730.4 L987.8,732.9 L994.4,734.4 L1001.1,734.9 L1007.8,737.1 L1014.4,739.6 L1021.1,741.1 L1025.6,739.6 L1031.1,738.9 L1036.7,745.1 L1041.1,748.2 L1046.7,745.6 L1054.4,746.2 L1061.1,742.2 L1066.7,742.2 L1072.2,745.6 L1078.9,747.1 L1086.7,746.7 L1093.3,748.4 L1100.0,750.4 L1106.7,749.6 L1115.6,750.4 L1124.4,752.9 L1133.3,752.7 L1140.0,750.7 L1145.6,747.3 L1150.0,760.0 L1153.3,767.1 L1156.7,771.1 L1160.0,764.4 L1163.3,756.7 L1167.8,753.8 L1171.1,753.3 L1175.6,758.9 L1181.1,763.3 L1186.7,758.2 L1193.3,756.2 L1200.0,754.0 L1206.7,752.7 L1215.6,751.8 L1224.4,752.7 L1231.1,750.0 L1236.7,751.6 L1240.0,754.5 L1245.7,753.2 L1251.3,751.8 L1257.0,754.1 L1262.7,753.7 L1267.4,749.4 L1272.1,747.9 L1276.8,750.3 L1281.6,753.2 L1287.2,755.1 L1294.8,752.2 L1300.4,753.2 L1305.2,754.1 L1308.0,757.9 L1312.7,758.8 L1315.6,759.8 L1319.3,755.1 L1326.9,753.2 L1334.4,753.2 L1340.1,755.1 L1347.7,756.9 L1353.3,757.3 L1359.0,756.4 L1364.7,758.3 L1371.3,759.4 L1376.0,756.9 L1383.6,756.0 L1389.2,757.3 L1394.9,757.3 L1400.6,755.4 L1408.1,754.7 L1415.7,753.7 L1422.3,754.5 L1428.9,755.6 L1434.6,754.5 L1439.3,756.0 L1444.0,755.6 L1449.7,751.7 L1455.3,749.4 L1461.0,747.9 L1466.7,745.6 L1471.4,743.7 L1474.6,742.4 L1478.9,746.0 L1483.7,748.4 L1489.3,746.6 L1495.9,744.1 L1501.6,739.9 L1506.3,739.4 L1512.0,739.6 L1517.7,733.3 L1521.1,731.4 L1525.2,732.4 L1530.9,734.3 L1538.4,737.5 L1544.1,737.1 L1549.8,734.3 L1553.6,737.1 L1558.3,739.0 L1563.0,743.7 L1567.7,749.4 L1571.5,752.2 L1575.3,752.2" fill="none" stroke="#8a63d8" stroke-width="3.4" stroke-linejoin="round" stroke-linecap="round"/>
<path d="M176.7,708.0 L181.1,706.4 L185.6,708.7 L190.0,712.4 L193.3,715.8 L197.8,715.3 L201.1,711.3 L204.4,705.8 L209.6,703.1 L213.3,706.9 L217.8,713.6 L223.3,719.1 L228.2,724.7 L232.2,726.4 L238.9,724.7 L245.6,726.4 L252.2,727.6 L258.9,728.2 L265.6,728.7 L272.2,729.1 L276.7,726.9 L281.1,728.2 L287.8,730.9 L294.4,732.0 L301.1,729.6 L306.7,730.4 L312.2,732.0 L317.8,731.8 L323.3,730.2 L330.0,731.8 L335.6,732.7 L342.2,732.0 L347.8,732.7 L351.1,734.7 L356.7,731.3 L362.2,729.1 L367.8,730.9 L373.3,731.3 L378.9,728.0 L385.6,724.2 L392.2,725.8 L398.9,725.8 L404.4,721.3 L410.0,719.1 L414.4,723.6 L420.0,726.9 L427.8,726.4 L434.4,725.3 L440.0,721.3 L445.6,715.8 L450.0,712.4 L455.6,716.9 L461.1,720.9 L466.7,720.2 L473.3,719.1 L480.0,719.8 L485.6,720.9 L492.2,719.1 L498.9,717.3 L505.6,715.8 L512.2,710.2 L518.9,709.1 L526.7,708.0 L533.3,709.1 L538.9,708.0 L545.6,710.2 L552.2,713.6 L561.1,715.3 L568.9,716.9 L578.9,716.9 L584.4,713.6 L590.0,709.8 L596.7,707.3 L603.3,702.0 L607.8,702.4 L614.4,707.3 L620.0,702.4 L625.6,698.0 L629.3,696.9 L633.3,684.7 L636.7,679.1 L639.6,677.6 L643.3,684.7 L648.4,692.0 L653.3,686.9 L658.9,674.7 L664.4,671.3 L668.9,669.6 L675.6,672.4 L681.1,679.8 L687.8,675.8 L692.2,675.3 L696.7,677.6 L703.3,674.7 L711.1,669.6 L715.6,669.1 L721.8,673.1 L726.7,666.9 L730.0,659.1 L732.9,657.6 L736.7,662.4 L741.1,675.8 L745.6,686.9 L750.0,694.7 L755.6,695.8 L762.2,698.0 L768.9,701.3 L775.6,701.3 L782.2,702.4 L790.0,696.9 L796.7,694.0 L804.4,691.8 L812.2,691.3 L817.8,688.0 L823.3,686.9 L830.0,691.3 L836.7,694.0 L842.2,688.7 L848.9,682.9 L854.4,681.3 L861.1,676.9 L867.8,674.7 L873.3,676.9 L880.0,679.1 L887.8,678.0 L893.3,682.0 L898.9,686.4 L906.7,686.4 L913.3,688.0 L920.0,689.1 L926.7,692.4 L935.6,695.1 L942.2,694.7 L950.0,698.7 L958.9,696.7 L967.8,698.2 L974.4,695.6 L981.1,693.3 L987.8,697.3 L994.4,699.6 L1004.4,696.0 L1011.1,690.7 L1016.7,693.3 L1021.1,701.1 L1028.9,700.7 L1036.7,699.3 L1044.4,703.3 L1053.3,704.4 L1061.1,705.6 L1068.9,704.0 L1077.8,703.3 L1085.6,705.6 L1093.3,707.3 L1098.9,706.7 L1104.4,704.4 L1112.2,706.2 L1121.1,705.6 L1128.9,707.3 L1135.6,707.3 L1143.3,704.4 L1148.9,700.0 L1153.3,701.8 L1158.9,705.6 L1164.4,706.7 L1173.3,706.2 L1182.2,706.7 L1190.0,710.0 L1195.6,706.7 L1201.1,701.1 L1205.6,699.6 L1210.0,701.8 L1215.6,700.4 L1222.2,701.1 L1228.9,702.7 L1235.6,704.4 L1240.0,703.1 L1244.7,699.3 L1248.5,698.4 L1252.3,700.8 L1257.9,701.2 L1262.7,700.3 L1267.4,699.3 L1273.1,700.3 L1277.8,703.1 L1282.5,704.6 L1287.2,709.7 L1291.9,714.4 L1296.7,715.4 L1301.4,715.0 L1306.1,712.0 L1310.8,708.8 L1315.6,708.4 L1321.2,708.8 L1327.8,706.5 L1333.5,707.8 L1338.2,707.3 L1342.9,708.8 L1347.7,710.3 L1355.2,708.4 L1362.8,708.8 L1369.4,709.7 L1375.1,708.2 L1380.7,708.2 L1386.4,710.7 L1393.0,710.7 L1397.7,707.8 L1402.4,706.9 L1407.2,707.8 L1410.9,708.2 L1415.7,704.4 L1422.3,703.1 L1427.0,704.6 L1431.7,707.8 L1436.4,712.0 L1440.2,713.9 L1444.9,711.0 L1451.6,708.8 L1457.2,712.6 L1463.8,717.7 L1469.5,715.0 L1474.6,710.7 L1479.9,714.4 L1485.6,717.3 L1491.2,714.4 L1495.9,714.1 L1501.6,708.4 L1506.3,706.9 L1510.1,706.5 L1513.9,699.3 L1517.7,688.9 L1521.1,685.2 L1524.3,688.0 L1529.0,693.7 L1533.7,697.1 L1538.4,701.2 L1544.1,702.2 L1549.8,700.8 L1553.6,706.9 L1557.3,712.6 L1561.1,717.3 L1564.9,718.2 L1568.7,722.9 L1572.4,726.7 L1575.3,726.7" fill="none" stroke="#0fdf92" stroke-width="3.4" stroke-linejoin="round" stroke-linecap="round"/>
<path d="M176.7,719.1 L182.2,714.7 L187.8,718.0 L193.3,722.4 L197.8,722.9 L203.3,718.0 L208.9,716.9 L213.3,720.7 L218.9,726.9 L225.6,731.3 L231.1,733.1 L238.9,732.4 L245.6,734.7 L254.4,736.2 L263.3,736.9 L270.0,736.9 L276.7,735.8 L283.3,737.6 L290.0,739.1 L296.7,738.0 L303.3,736.2 L310.0,738.0 L316.7,739.1 L325.6,737.6 L334.4,738.7 L343.3,739.1 L350.0,741.3 L356.7,739.1 L363.3,736.9 L372.2,738.0 L378.9,735.3 L385.6,732.4 L392.2,733.6 L400.0,733.6 L405.6,729.1 L411.1,726.9 L416.7,730.7 L423.3,732.0 L430.0,733.1 L436.7,731.3 L443.3,728.0 L450.0,725.3 L456.7,725.8 L463.3,728.0 L472.2,729.1 L481.1,731.3 L490.0,731.3 L498.9,729.1 L505.6,728.0 L512.2,723.6 L518.9,721.3 L527.8,721.3 L534.4,722.4 L540.0,720.2 L545.6,721.3 L552.2,724.7 L561.1,725.8 L568.9,726.4 L578.9,724.2 L588.9,721.3 L597.8,720.2 L605.6,715.8 L611.1,718.0 L615.6,720.2 L622.2,717.6 L627.8,715.3 L633.3,704.7 L638.9,700.7 L643.3,705.8 L648.4,710.2 L654.4,704.7 L660.0,699.1 L664.4,698.4 L668.9,695.8 L675.6,696.4 L681.1,703.6 L688.9,702.9 L695.6,705.8 L704.4,706.2 L708.9,702.4 L713.3,695.3 L716.7,694.7 L721.1,699.1 L724.4,703.6 L730.0,699.1 L735.6,696.9 L740.0,702.4 L744.4,710.2 L748.9,716.9 L755.6,718.0 L763.3,720.9 L771.1,722.4 L777.8,725.3 L784.4,727.3 L793.3,725.8 L802.2,724.7 L811.1,723.6 L817.8,722.4 L823.3,721.3 L831.1,724.2 L837.8,725.1 L846.7,722.0 L855.6,720.2 L864.4,719.1 L870.0,718.0 L877.8,719.1 L884.4,718.0 L888.9,716.9 L894.4,719.1 L900.0,724.7 L908.9,723.6 L916.7,722.4 L924.4,724.2 L933.3,722.4 L940.0,724.7 L948.9,725.8 L953.3,723.3 L958.9,722.7 L964.4,725.6 L971.1,728.2 L980.0,726.2 L987.8,728.2 L994.4,728.4 L1001.1,725.6 L1006.7,721.1 L1011.1,716.0 L1014.4,715.1 L1018.9,721.1 L1023.3,724.0 L1031.1,724.9 L1035.6,717.8 L1041.1,715.6 L1044.4,721.1 L1052.2,721.8 L1057.8,724.4 L1063.3,725.6 L1071.1,721.8 L1078.9,719.6 L1086.7,721.1 L1090.0,722.2 L1096.7,720.0 L1104.4,717.3 L1112.2,718.2 L1115.6,718.9 L1124.4,716.0 L1132.2,717.8 L1140.0,718.2 L1145.6,717.8 L1148.9,704.4 L1152.2,696.7 L1156.0,693.3 L1158.9,700.0 L1162.2,711.1 L1166.7,715.1 L1171.1,715.1 L1175.6,708.9 L1181.1,706.7 L1185.6,713.3 L1191.1,716.7 L1197.8,712.2 L1204.4,709.6 L1210.0,711.6 L1216.7,710.7 L1223.3,711.1 L1228.9,715.1 L1234.4,716.7 L1240.0,712.6 L1244.7,708.8 L1248.5,708.4 L1252.3,711.6 L1257.0,711.0 L1261.7,709.7 L1266.4,712.6 L1272.1,715.4 L1277.8,715.0 L1284.4,714.4 L1288.2,718.2 L1291.9,722.9 L1295.7,725.8 L1300.4,724.8 L1305.2,722.0 L1308.0,715.4 L1311.8,712.6 L1315.6,712.6 L1319.3,717.3 L1326.9,716.3 L1334.4,717.3 L1341.1,716.3 L1347.7,716.3 L1355.2,712.9 L1360.9,715.0 L1368.4,713.5 L1374.1,712.9 L1380.7,714.1 L1387.3,716.0 L1393.9,715.4 L1400.6,713.9 L1406.2,714.4 L1410.0,716.7 L1415.7,713.5 L1422.3,711.6 L1428.9,712.9 L1432.7,716.7 L1436.4,720.1 L1441.2,721.1 L1445.9,718.2 L1451.6,720.1 L1457.2,726.7 L1462.9,732.4 L1468.6,733.0 L1475.2,730.5 L1481.8,730.5 L1487.4,732.8 L1493.1,731.8 L1498.8,732.4 L1504.4,731.1 L1510.1,728.6 L1513.9,723.9 L1517.7,718.2 L1521.4,716.7 L1525.2,719.5 L1530.9,723.3 L1536.6,724.8 L1543.2,727.3 L1549.8,728.6 L1553.6,732.4 L1557.3,735.6 L1561.1,736.2 L1566.8,734.3 L1571.5,736.2 L1575.3,737.5" fill="none" stroke="#f7536c" stroke-width="3.4" stroke-linejoin="round" stroke-linecap="round"/>
<line x1="176.2" x2="176.2" y1="164" y2="863.3" stroke="#4d4d4d" stroke-width="1.9"/>
<line x1="1655.1" x2="1655.1" y1="164" y2="862.7" stroke="#f7536c" stroke-width="1.5"/>
<circle cx="86.2" cy="149.6" r="5.7" fill="#525554"/>
<circle cx="86.2" cy="174.7" r="5.7" fill="#fd9b4e"/>
<circle cx="461.7" cy="149.6" r="5.7" fill="#d6d6d6"/>
<circle cx="837.6" cy="149.6" r="5.7" fill="#0fdf92"/>
<circle cx="837.6" cy="174.7" r="5.7" fill="#8a63d8"/>
<circle cx="1213" cy="149.6" r="5.7" fill="#f7536c"/>
<text x="36.8" y="75.1" font-size="31" fill="#2b2b2b" letter-spacing="0.595" >Bitcoin: Exchange Transaction Dominance</text>
<text x="96.8" y="155" font-size="15" fill="#333" letter-spacing="0.287" >BTC: Price [USD]</text>
<text x="96.8" y="180.1" font-size="15" fill="#333" letter-spacing="0.438" >BTC: Transaction Count</text>
<text x="472.8" y="155" font-size="15" fill="#333" letter-spacing="0.379" >Exchange Transaction Dominance (%)</text>
<text x="474.2" y="180.1" font-size="15" fill="#333" letter-spacing="0.0" >-</text>
<text x="848.6" y="155" font-size="15" fill="#333" letter-spacing="0.346" >BTC: Exchange Deposits - All Exchanges</text>
<text x="848.6" y="180.1" font-size="15" fill="#333" letter-spacing="0.543" >Deposits - Withdrawals</text>
<text x="1224.0" y="155" font-size="15" fill="#333" letter-spacing="0.385" >BTC: Exchange Withdrawals - All Exchanges</text>
<text x="38.9" y="975" font-size="20" fill="#8a8a8a" letter-spacing="0.516" >© 2024 Glassnode. All Rights Reserved.</text>
<text transform="translate(1568.6,978.3) scale(1.098,1)" x="0" y="0" font-size="38.8" fill="#000" stroke="#000" stroke-width="0.8" stroke-linejoin="round">glassnode</text>
<text x="113.8" y="272.9" font-size="17.3" fill="#333" letter-spacing="1.067" >$60k</text>
<text x="113.8" y="511.9" font-size="17.3" fill="#333" letter-spacing="1.067" >$20k</text>
<text x="124.0" y="710" font-size="17.3" fill="#333" letter-spacing="1.0" >$8k</text>
<text x="124.0" y="859.7" font-size="17.3" fill="#333" letter-spacing="1.0" >$4k</text>
<text x="1597.2" y="260.8" font-size="17.3" fill="#333" letter-spacing="0.0" >120%</text>
<text x="1597.2" y="460.5" font-size="17.3" fill="#333" letter-spacing="0.25" >80%</text>
<text x="1598.2" y="660" font-size="17.3" fill="#333" letter-spacing="-0.25" >40%</text>
<text x="1598.2" y="859.7" font-size="17.3" fill="#333" letter-spacing="-0.6" >0%</text>
<text x="1676.8" y="260.8" font-size="17.3" fill="#333" letter-spacing="1.0" >600K</text>
<text x="1676.8" y="460.5" font-size="17.3" fill="#333" letter-spacing="1.0" >360K</text>
<text x="1676.8" y="660" font-size="17.3" fill="#333" letter-spacing="0.5" >120K</text>
<text x="1677.8" y="859.7" font-size="17.3" fill="#333" letter-spacing="0.1" >-120K</text>
<text x="181.1" y="903" font-size="17.3" fill="#3c404e" letter-spacing="0.567" >Jul '19</text>
<text x="318.1" y="903" font-size="17.3" fill="#3c404e" letter-spacing="0.9" >Jan '20</text>
<text x="461.5" y="903" font-size="17.3" fill="#3c404e" letter-spacing="0.567" >Jul '20</text>
<text x="598.4" y="903" font-size="17.3" fill="#3c404e" letter-spacing="0.9" >Jan '21</text>
<text x="741.4" y="903" font-size="17.3" fill="#3c404e" letter-spacing="0.567" >Jul '21</text>
<text x="877.9" y="903" font-size="17.3" fill="#3c404e" letter-spacing="0.9" >Jan '22</text>
<text x="1020.9" y="903" font-size="17.3" fill="#3c404e" letter-spacing="0.567" >Jul '22</text>
<text x="1157.4" y="903" font-size="17.3" fill="#3c404e" letter-spacing="0.9" >Jan '23</text>
<text x="1300.4" y="903" font-size="17.3" fill="#3c404e" letter-spacing="0.567" >Jul '23</text>
<text x="1436.9" y="903" font-size="17.3" fill="#3c404e" letter-spacing="0.9" >Jan '24</text>
</svg></body></html>
